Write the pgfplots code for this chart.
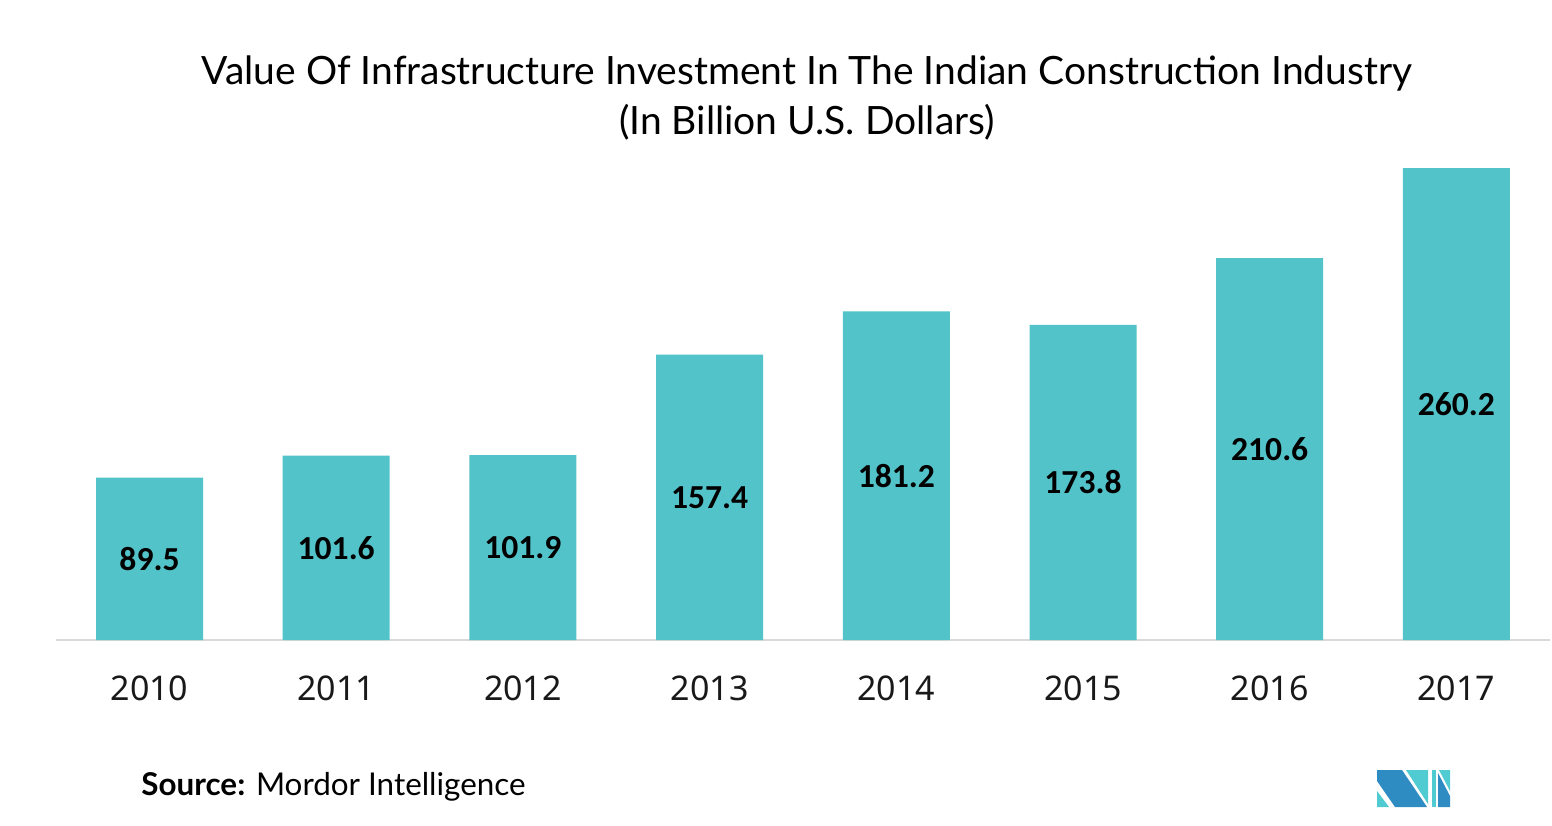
\documentclass[border=0pt]{standalone}
\usepackage{fontspec}
\setmainfont{Lato}
\newfontfamily\barfont{Carlito}
\newfontfamily\tickfont{Noto Sans}
\usepackage{pgfplots}
\usepackage{pgfplotstable}
\pgfplotsset{compat=1.18}

\definecolor{barteal}{HTML}{52C3C9}
\definecolor{axgray}{HTML}{D9D9D9}
\definecolor{logodark}{HTML}{2F8CC2}
\definecolor{logolight}{HTML}{4FCBD1}

% year index, value (billion USD)
\pgfplotstableread{
x v
0 89.5
1 101.6
2 101.9
3 157.4
4 181.2
5 173.8
6 210.6
7 260.2
}\invest

\begin{document}
\begin{tikzpicture}
% 1 px of the reference = 0.5pt
\useasboundingbox (0,0) rectangle (776pt,-412.5pt);

\node[align=center, font=\fontsize{19.5}{25}\selectfont] at (403.5pt,-49pt)
  {Value Of Infrastructure Investment In The Indian Construction Industry\\(In Billion U.S. Dollars)};

\begin{axis}[
  at={(28.08pt,-320pt)}, anchor=south west,
  scale only axis,
  width=746.8pt, height=263pt,
  xmin=-0.5, xmax=7.5,
  ymin=0, ymax=290,
  axis x line*=bottom,
  axis y line=none,
  x axis line style={draw=axgray, line width=1pt},
  xtick={0,...,7},
  xticklabels={2010,2011,2012,2013,2014,2015,2016,2017},
  xtick style={draw=none},
  xticklabel style={font=\tickfont\fontsize{17}{17}\selectfont, anchor=center, yshift=-24pt, text=black!90},
  ytick=\empty,
  /pgf/number format/assume math mode=true,
  clip=false,
]
\addplot[ybar, bar width=53.5pt, fill=barteal, draw=none] table[x=x, y=v] {\invest};
\addplot[draw=none, mark=none, point meta=explicit,
  nodes near coords={\pgfmathprintnumber[fixed,fixed zerofill,precision=1]{\pgfplotspointmeta}},
  every node near coord/.append style={anchor=center, font=\barfont\bfseries\fontsize{16.8}{16.8}\selectfont, text=black},
] table[x=x, y expr=\thisrow{v}/2, meta=v] {\invest};
\end{axis}

\node[anchor=west, inner sep=0pt, font=\fontsize{15.7}{15.7}\selectfont] at (70.5pt,-393.5pt)
  {\textbf{Source:} Mordor Intelligence};

\begin{scope}[x=0.5pt, y=-0.5pt]
  \fill[logolight] (1377,791) -- (1377,807) -- (1389,807) -- cycle;
  \fill[logodark] (1377,770) -- (1402,770) -- (1427,807) -- (1395,807) -- (1377,781) -- cycle;
  \fill[logolight] (1406,770) -- (1428,770) -- (1428,804) -- cycle;
  \fill[logolight] (1432,770) rectangle (1436,807);
  \fill[logolight] (1439,770) -- (1450,770) -- (1450,791) -- cycle;
  \fill[logodark] (1438,773) -- (1450,796) -- (1450,807) -- (1438,807) -- cycle;
\end{scope}
\end{tikzpicture}
\end{document}
